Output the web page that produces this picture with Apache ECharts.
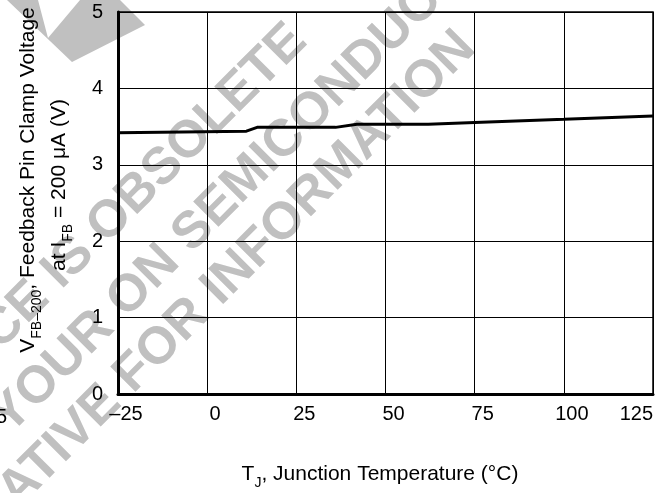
<!DOCTYPE html>
<html>
<head>
<meta charset="utf-8">
<script src="https://cdn.jsdelivr.net/npm/echarts@6/dist/echarts.min.js"></script>
<style>
html,body{margin:0;padding:0;background:#fff;}
#chart{width:672px;height:493px;}
</style>
</head>
<body>
<div id="chart"></div>
<script>
// Data
var temperatures = [-25, 11, 14, 36, 42, 62, 75, 100, 125];
var clampVoltage = [3.42, 3.44, 3.49, 3.49, 3.53, 3.53, 3.555, 3.595, 3.64];
var xTicks = [-25, 0, 25, 50, 75, 100, 125];
var yTicks = [0, 1, 2, 3, 4, 5];
var watermarkLines = ['THIS DEVICE IS OBSOLETE', 'PLEASE CONTACT YOUR ON SEMICONDUCTOR', 'REPRESENTATIVE FOR INFORMATION'];

var FONT = '"Liberation Sans", Arial, Helvetica, sans-serif';
var seriesData = temperatures.map(function (t, i) { return [t, clampVoltage[i]]; });

var wmStarts = [[-190, 521], [-345, 770], [-215, 722]];
var graphics = [];
watermarkLines.forEach(function (txt, i) {
  graphics.push({
    type: 'text', x: wmStarts[i][0], y: wmStarts[i][1], rotation: Math.PI / 4, z: -10, silent: true,
    style: { text: txt, fill: '#c0c0c0', font: 'bold 52px ' + FONT, align: 'left', verticalAlign: 'middle' }
  });
});
graphics.push({
  type: 'polygon', z: -10, silent: true,
  shape: { points: [[7, 0], [38, 0], [48, 38], [80, 0], [120, 0], [145, 25], [72, 62]] },
  style: { fill: '#c0c0c0' }
});
var rich = {
  n: { fontSize: 21, fontFamily: FONT, color: '#000', lineHeight: 26, verticalAlign: 'top' },
  s: { fontSize: 14, fontFamily: FONT, color: '#000', lineHeight: 14, verticalAlign: 'bottom' }
};
graphics.push({
  type: 'text', x: 380, y: 477, z: 10,
  style: { text: '{n|T}{s|J}{n|, Junction Temperature (°C)}', rich: rich, align: 'center', verticalAlign: 'middle' }
});
graphics.push({
  type: 'text', x: 31, y: 180, rotation: Math.PI / 2, z: 10,
  style: { text: '{n|V}{s|FB–200}{n|, Feedback Pin Clamp Voltage}', rich: rich, align: 'center', verticalAlign: 'middle' }
});
graphics.push({
  type: 'text', x: 62, y: 185, rotation: Math.PI / 2, z: 10,
  style: { text: '{n|at I}{s|FB}{n| = 200 μA (V)}', rich: rich, align: 'center', verticalAlign: 'middle' }
});
graphics.push({
  type: 'text', x: 7, y: 417, z: 10,
  style: { text: '5', fill: '#000', font: '20px ' + FONT, align: 'right', verticalAlign: 'middle' }
});

var chart = echarts.init(document.getElementById('chart'), null, { renderer: 'canvas' });
chart.setOption({
  animation: false,
  backgroundColor: '#fff',
  grid: { left: 118, right: 19, top: 12, bottom: 99, show: true, borderColor: '#000', borderWidth: 1.5, backgroundColor: 'transparent' },
  xAxis: {
    type: 'value', min: xTicks[0], max: xTicks[xTicks.length - 1], interval: 25,
    axisLine: { show: true, onZero: false, lineStyle: { color: '#000', width: 3 } },
    axisTick: { show: false },
    splitLine: { show: true, lineStyle: { color: '#000', width: 1 } },
    axisLabel: {
      color: '#000', fontSize: 20, fontFamily: FONT, margin: 10, padding: [0, 0, 0, 16],
      alignMaxLabel: 'right',
      formatter: function (v) { return v < 0 ? '–' + Math.abs(v) : String(v); }
    }
  },
  yAxis: {
    type: 'value', min: yTicks[0], max: yTicks[yTicks.length - 1], interval: 1,
    axisLine: { show: true, onZero: false, lineStyle: { color: '#000', width: 3 } },
    axisTick: { show: false },
    splitLine: { show: true, lineStyle: { color: '#000', width: 1 } },
    axisLabel: { color: '#000', fontSize: 20, fontFamily: FONT, margin: 15, padding: [6, 0, 0, 0] }
  },
  graphic: graphics,
  series: [{
    type: 'line', data: seriesData, symbol: 'none', z: 5,
    lineStyle: { color: '#000', width: 3 }
  }]
});
</script>
</body>
</html>
